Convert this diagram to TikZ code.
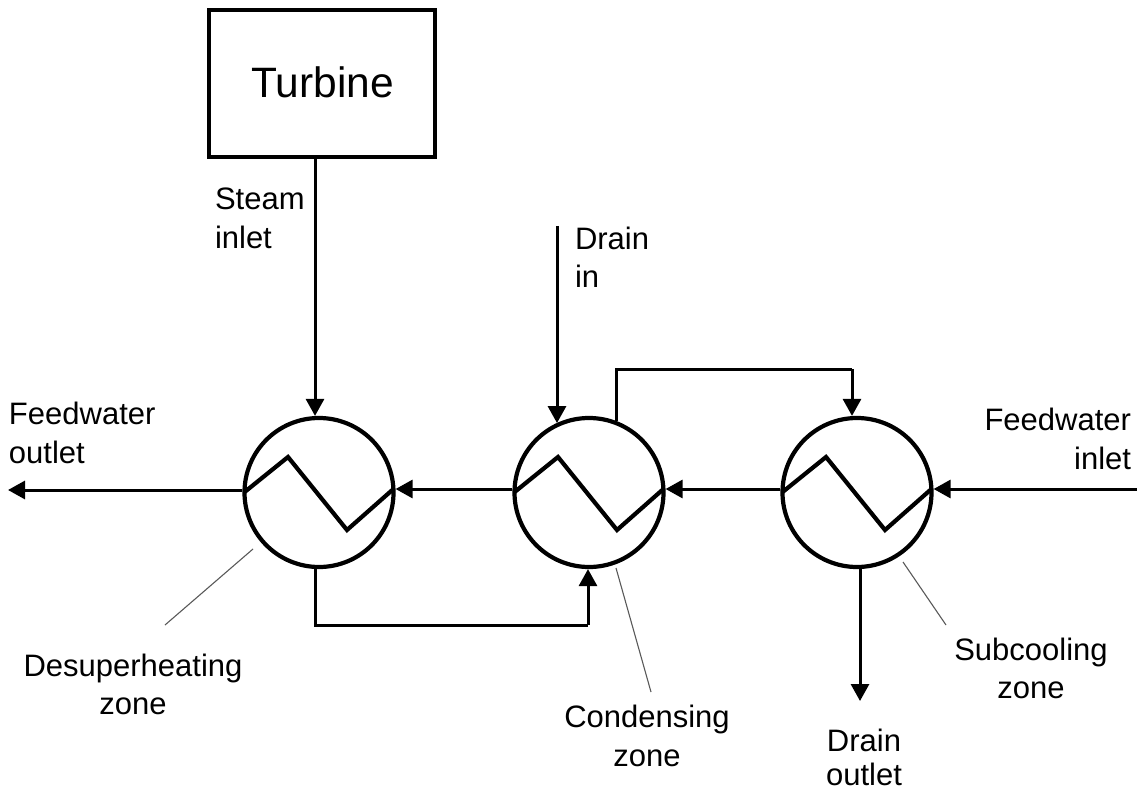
\documentclass[tikz,border=0pt]{standalone}
\usepackage{fontspec}
\setmainfont{Liberation Sans}
\usetikzlibrary{arrows.meta}
\tikzset{
  hx/.style={draw=black,line width=4.2pt,circle,inner sep=0pt,minimum size=149pt},
  zig/.style={draw=black,line width=4.2pt,line join=miter},
  conn/.style={draw=black,line width=3pt},
  arr/.style={conn,-{Triangle[width=18pt,length=17pt]}},
  leader/.style={draw=black!65,line width=1.1pt},
  lbl/.style={inner sep=0pt,outer sep=0pt,font=\fontsize{31}{38.5}\selectfont,text=black}
}
\begin{document}
\begin{tikzpicture}[x=1pt,y=-1pt]
\useasboundingbox (0,0) rectangle (1137,791);
% nodes
\node[draw=black,line width=4pt,minimum width=226pt,minimum height=147pt,inner sep=0pt] (turbine) at (322,84) {};
\node[lbl,font=\fontsize{42.5}{50}\selectfont] (turbinetxt) at (322.5,82.5) {Turbine};
\node[hx] (h1) at (319,492.5) {};
\node[hx] (h2) at (589,492.5) {};
\node[hx] (h3) at (857,492.5) {};
% zigzags
\foreach \n in {h1,h2,h3}{
  \draw[zig,shift={(\n.center)}] (-75,0) -- (-31,-35.5) -- (28,37.5) -- (75,-4);
}
% free ends
\coordinate (sx) at (315,0);
\coordinate (dinx) at (557,226);
\coordinate (c23a) at (616.7,369);
\coordinate (c23b) at (852,369);
\coordinate (c12a) at (315,625);
\coordinate (c12b) at (588,625);
\coordinate (fin) at (1137,489);
\coordinate (fout) at (8,490);
\coordinate (dout) at (860,701);
\coordinate (l1a) at (253,549);
\coordinate (l1b) at (165,625);
\coordinate (l2a) at (616,568);
\coordinate (l2b) at (651,692);
\coordinate (l3a) at (903,562);
\coordinate (l3b) at (946,625);
% connectors
\draw[arr] (turbine.south -| sx) -- (h1.north -| sx);
\draw[arr] (dinx) -- (dinx |- h2.115);
\draw[conn,line join=miter] (c23a |- h2.68.4) -- (c23a) -- (c23b);
\draw[arr] (c23b) -- (c23b |- h3.north);
\draw[conn,line join=miter] (h1.south -| c12a) -- (c12a) -- (c12b);
\draw[arr] (c12b) -- (c12b |- h2.south);
\draw[arr] (fin) -- (fin -| h3.east);
\draw[arr] (h3.west |- fin) -- (h2.east |- fin);
\draw[arr] (h2.west |- fin) -- (h1.east |- fin);
\draw[arr] (h1.west |- fout) -- (fout);
\draw[arr] (h3.south -| dout) -- (dout);
\draw[leader] (l1a) -- (l1b);
\draw[leader] (l2a) -- (l2b);
\draw[leader] (l3a) -- (l3b);
% labels
\node[lbl,anchor=west,align=left] (steam) at (215,218.5) {Steam\\inlet};
\node[lbl,anchor=west,align=left] (drainin) at (575,257.5) {Drain\\in};
\node[lbl,anchor=west,align=left] (fo) at (9,433) {Feedwater\\outlet};
\node[lbl,anchor=east,align=right] (fi) at (1131,439) {Feedwater\\inlet};
\node[lbl,align=center] (dz) at (133,684.5) {Desuperheating\\zone};
\node[lbl,align=center] (cz) at (647,736) {Condensing\\zone};
\node[lbl,align=center] (sz) at (1031,668.5) {Subcooling\\zone};
\node[lbl,align=center,font=\fontsize{31}{34}\selectfont] (do) at (864,757.5) {Drain\\outlet};
\end{tikzpicture}
\end{document}
